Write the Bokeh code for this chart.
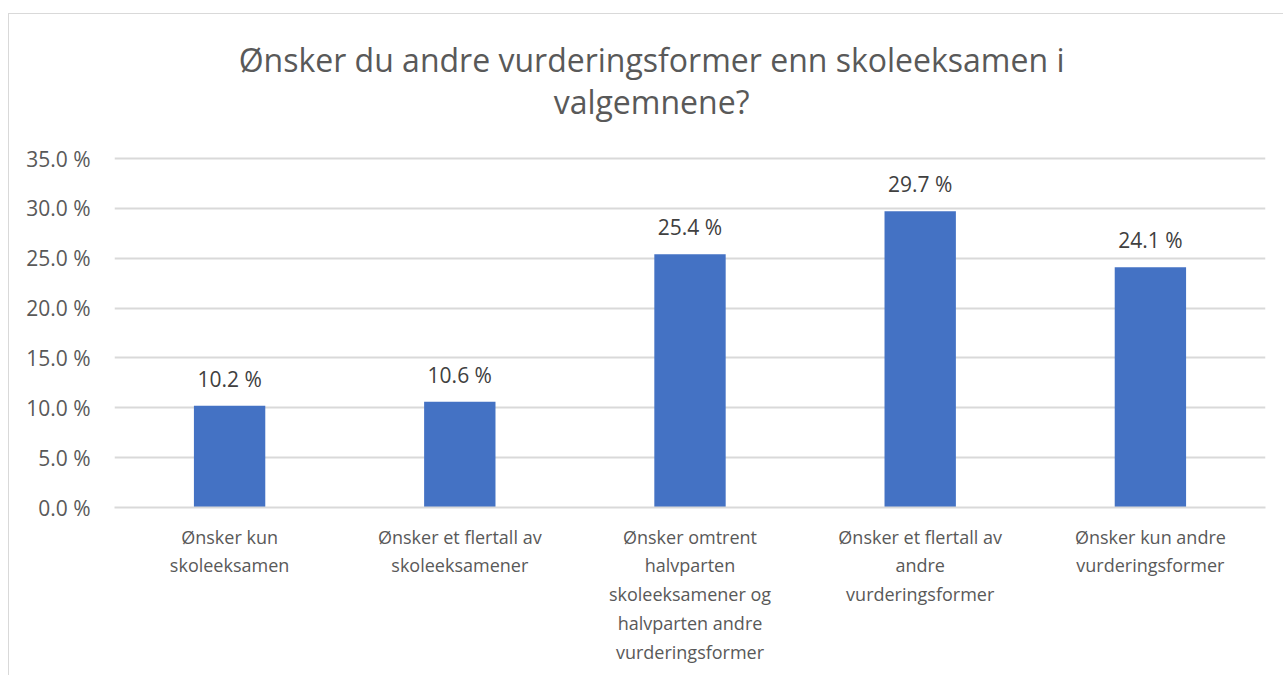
from bokeh.plotting import figure
from bokeh.models import (ColumnDataSource, FactorRange, Range1d, FixedTicker,
                          LabelSet, Label, CustomJSTickFormatter)
from bokeh.core.properties import value
from bokeh.embed import file_html
from bokeh.resources import INLINE

# ---- data ----
categories = [
    "Ønsker kun\nskoleeksamen",
    "Ønsker et flertall av\nskoleeksamener",
    "Ønsker omtrent\nhalvparten\nskoleeksamener og\nhalvparten andre\nvurderingsformer",
    "Ønsker et flertall av\nandre\nvurderingsformer",
    "Ønsker kun andre\nvurderingsformer",
]
values = [10.2, 10.6, 25.4, 29.7, 24.1]
y_ticks = [0, 5, 10, 15, 20, 25, 30, 35]
title_lines = ["Ønsker du andre vurderingsformer enn skoleeksamen i", "valgemnene?"]

FONT = "Open Sans"
BAR = "#4472C4"
GRID = "#D9D9D9"
TXT = "#595959"

source = ColumnDataSource(dict(
    cat=categories,
    val=values,
    lab=[f"{v:.1f} %" for v in values],
))

# plot area: 0..35 % spans 349 px; the frame is extended upward to hold the title
PX_PER_UNIT = 349 / 35
FRAME_H = 492
y_top = FRAME_H / PX_PER_UNIT

p = figure(
    x_range=FactorRange(*categories, range_padding=0),
    y_range=Range1d(0, y_top),
    width=1275, height=662,
    output_backend="svg", toolbar_location=None,
    min_border_left=105, min_border_right=19,
    min_border_top=1, min_border_bottom=169,
)
p.margin = (13, 0, 0, 8)
p.styles = {"border-left": "1px solid #D9D9D9", "border-top": "1px solid #D9D9D9"}
p.outline_line_color = None
p.background_fill_color = "white"
p.border_fill_color = "white"

p.vbar(x="cat", top="val", width=0.31, source=source, color=BAR, line_color=None)

labels = LabelSet(x="cat", y="val", text="lab", source=source,
                  text_align="center", text_baseline="bottom", y_offset=13,
                  text_font=value(FONT), text_font_size="21px", text_color="#404040")
p.add_layout(labels)

# title (two centred lines above the plot area)
for t, yy in zip(title_lines, [35 + 99 / PX_PER_UNIT, 35 + 57 / PX_PER_UNIT]):
    p.add_layout(Label(x=2.333, y=yy, text=t, text_align="center",
                       text_baseline="middle", text_font=FONT,
                       text_font_size="32px", text_color=TXT))

# axes
p.yaxis.ticker = FixedTicker(ticks=y_ticks)
p.yaxis.formatter = CustomJSTickFormatter(code="return tick.toFixed(1) + ' %';")
p.yaxis.axis_line_color = None
p.yaxis.major_tick_line_color = None
p.yaxis.minor_tick_line_color = None
p.yaxis.major_label_text_font = FONT
p.yaxis.major_label_text_font_size = "21px"
p.yaxis.major_label_text_color = TXT
p.yaxis.major_label_standoff = 18

p.xaxis.axis_line_color = GRID
p.xaxis.axis_line_width = 2
p.xaxis.major_tick_line_color = None
p.xaxis.minor_tick_line_color = None
p.xaxis.major_label_text_font = FONT
p.xaxis.major_label_text_font_size = "18px"
p.xaxis.major_label_text_color = TXT
p.xaxis.major_label_text_line_height = 1.2
p.xaxis.major_label_standoff = 11

p.xgrid.grid_line_color = None
p.ygrid.grid_line_color = GRID
p.ygrid.grid_line_width = 2

open("out.html", "w").write(file_html(p, INLINE))
